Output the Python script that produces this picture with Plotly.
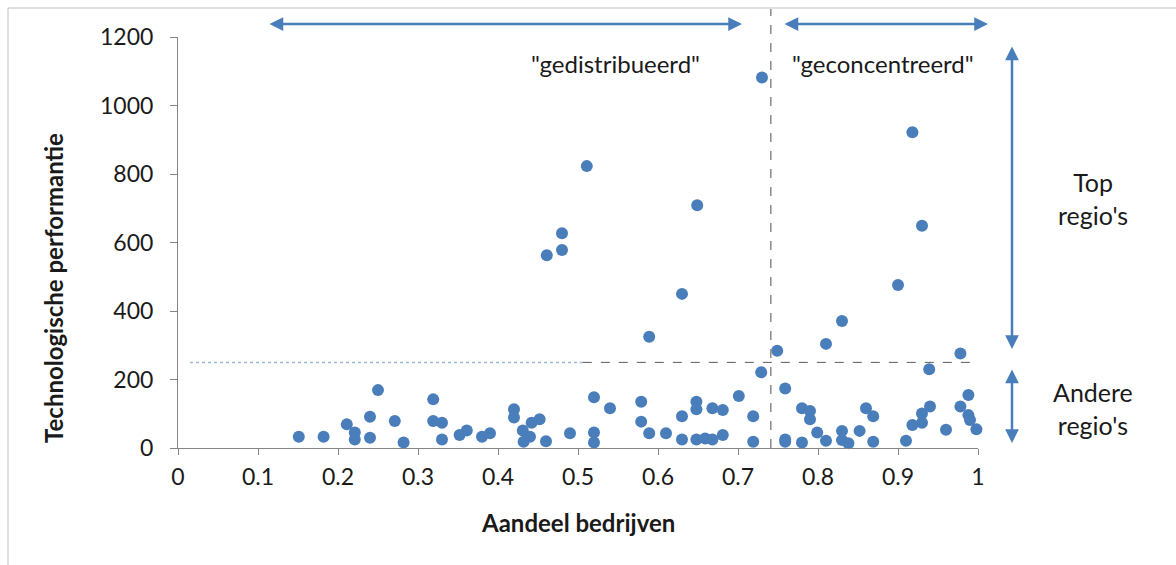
import plotly.graph_objects as go

# ---------------- data ----------------
aandeel = [0.151, 0.182, 0.211, 0.221, 0.221, 0.24, 0.24, 0.25, 0.271, 0.282,
           0.319, 0.319, 0.33, 0.33, 0.352, 0.361, 0.38, 0.39, 0.42, 0.42,
           0.431, 0.432, 0.44, 0.442, 0.452, 0.46, 0.49, 0.52, 0.52, 0.52,
           0.54, 0.579, 0.579, 0.589, 0.61, 0.63, 0.63, 0.648, 0.648, 0.648,
           0.659, 0.668, 0.668, 0.681, 0.681, 0.701, 0.719, 0.719, 0.729, 0.749,
           0.759, 0.759, 0.759, 0.78, 0.78, 0.79, 0.79, 0.799, 0.81, 0.81,
           0.83, 0.83, 0.838, 0.852, 0.86, 0.869, 0.869, 0.91, 0.918, 0.93,
           0.93, 0.939, 0.94, 0.96, 0.978, 0.978, 0.988, 0.988, 0.99, 0.998,
           0.511, 0.649, 0.48, 0.48, 0.461, 0.63, 0.589, 0.73, 0.918, 0.93,
           0.9, 0.83]
performantie = [33, 33, 69, 45, 25, 91, 30, 169, 79, 16,
                142, 79, 74, 25, 38, 51, 33, 43, 113, 89,
                51, 18, 33, 74, 84, 20, 43, 148, 45, 16,
                116, 135, 77, 43, 43, 93, 25, 135, 113, 25,
                28, 116, 25, 111, 38, 152, 93, 18, 221, 284,
                174, 18, 25, 116, 16, 108, 84, 45, 21, 304,
                50, 23, 14, 50, 116, 93, 18, 21, 67, 74,
                101, 230, 121, 53, 276, 121, 155, 96, 82, 55,
                823, 709, 627, 578, 563, 450, 325, 1082, 922, 649,
                476, 371]

x_ticks = [0, 0.1, 0.2, 0.3, 0.4, 0.5, 0.6, 0.7, 0.8, 0.9, 1]
x_ticklabels = ["0", "0.1", "0.2", "0.3", "0.4", "0.5", "0.6", "0.7", "0.8", "0.9", "1"]
y_ticks = [0, 200, 400, 600, 800, 1000, 1200]

drempel_y = 250          # horizontal threshold
grens_x = 0.741          # vertical split

x_title = "Aandeel bedrijven"
y_title = "Technologische performantie"

# ---------------- layout geometry ----------------
W, H = 1176, 565
L, R, T, B = 178, 198, 37, 117
PW, PH = W - L - R, H - T - B
XR = [0, 1]
YR = [0, 1200]


def px2p(px):
    return (px - L) / PW


def py2p(py):
    return (H - B - py) / PH


def x2p(x):
    return (x - XR[0]) / (XR[1] - XR[0])


def y2p(y):
    return (y - YR[0]) / (YR[1] - YR[0])


FONT = "Lato"
BLUE = "#4A7EBB"
TXT = "#1a1a1a"

fig = go.Figure()
fig.add_trace(go.Scatter(
    x=aandeel, y=performantie, mode="markers",
    marker=dict(size=12, color=BLUE, line=dict(width=0)),
    showlegend=False, cliponaxis=False, hoverinfo="skip",
))

shapes = []
# outer chart border (left and top only visible)
shapes.append(dict(type="line", xref="paper", yref="paper",
                   x0=px2p(8), x1=px2p(8), y0=py2p(8), y1=py2p(H + 5),
                   line=dict(color="#BFBFBF", width=1)))
shapes.append(dict(type="line", xref="paper", yref="paper",
                   x0=px2p(8), x1=px2p(W + 5), y0=py2p(8), y1=py2p(8),
                   line=dict(color="#BFBFBF", width=1)))
# horizontal threshold line (two parts)
shapes.append(dict(type="line", xref="paper", yref="paper",
                   x0=x2p(0.015), x1=x2p(0.506), y0=y2p(drempel_y), y1=y2p(drempel_y),
                   line=dict(color="#9DB6D6", width=1.5, dash="dot")))
shapes.append(dict(type="line", xref="paper", yref="paper",
                   x0=x2p(0.506), x1=x2p(1.0), y0=y2p(drempel_y), y1=y2p(drempel_y),
                   line=dict(color="#5A5A5A", width=1, dash="dash")))
# vertical split line
shapes.append(dict(type="line", xref="paper", yref="paper",
                   x0=x2p(grens_x), x1=x2p(grens_x), y0=0, y1=py2p(9),
                   line=dict(color="#8A8A8A", width=1.5, dash="dash")))

annotations = []


def arrow(x0p, y0p, x1p, y1p):
    # double headed arrow between two paper points
    dx = (x0p - x1p) * PW
    dy = -(y0p - y1p) * PH
    annotations.append(dict(xref="paper", yref="paper", x=x1p, y=y1p,
                            ax=dx, ay=dy, axref="pixel", ayref="pixel",
                            showarrow=True, arrowhead=2, startarrowhead=2,
                            arrowside="end+start", arrowsize=1.1, startarrowsize=1.1,
                            arrowwidth=2.5, arrowcolor=BLUE, text=""))


def label(pxc, pyc, text, size=24, angle=0):
    annotations.append(dict(xref="paper", yref="paper", x=px2p(pxc), y=py2p(pyc),
                            xanchor="center", yanchor="middle", text=text,
                            showarrow=False, align="center", textangle=angle,
                            font=dict(family=FONT, size=size, color=TXT)))


# top horizontal arrows
arrow(px2p(268), py2p(24), px2p(742), py2p(24))
arrow(px2p(783), py2p(24), px2p(988), py2p(24))
# right vertical arrows
arrow(px2p(1012), py2p(45), px2p(1012), py2p(349))
arrow(px2p(1012), py2p(368), px2p(1012), py2p(443))

label(615, 63, '"gedistribueerd"', size=24)
label(883, 63, '"geconcentreerd"', size=24)
label(1093, 198, "Top<br>regio's", size=25)
label(1093, 408, "Andere<br>regio's", size=25)
# axis titles
label(L + PW / 2, 522, "<b>" + x_title + "</b>", size=24)
label(53, 288, "<b>" + y_title + "</b>", size=24, angle=-90)

fig.update_layout(
    width=W, height=H,
    margin=dict(l=L, r=R, t=T, b=B, pad=0),
    paper_bgcolor="white", plot_bgcolor="white",
    font=dict(family=FONT, size=23, color=TXT),
    shapes=shapes, annotations=annotations,
    xaxis=dict(range=XR, tickvals=x_ticks, ticktext=x_ticklabels,
               showgrid=False, zeroline=False, showline=True,
               linecolor="#868686", linewidth=1, ticks="outside", ticklen=6,
               tickcolor="#868686", ticklabelstandoff=2,
               tickfont=dict(family=FONT, size=23, color=TXT)),
    yaxis=dict(range=YR, tickvals=y_ticks,
               showgrid=False, zeroline=False, showline=True,
               linecolor="#868686", linewidth=1, ticks="outside", ticklen=7,
               tickcolor="#868686", ticklabelstandoff=12,
               tickfont=dict(family=FONT, size=23, color=TXT)),
)

fig.write_html("out.html", config={"displayModeBar": False},
               post_script="document.body.style.margin='0';")
